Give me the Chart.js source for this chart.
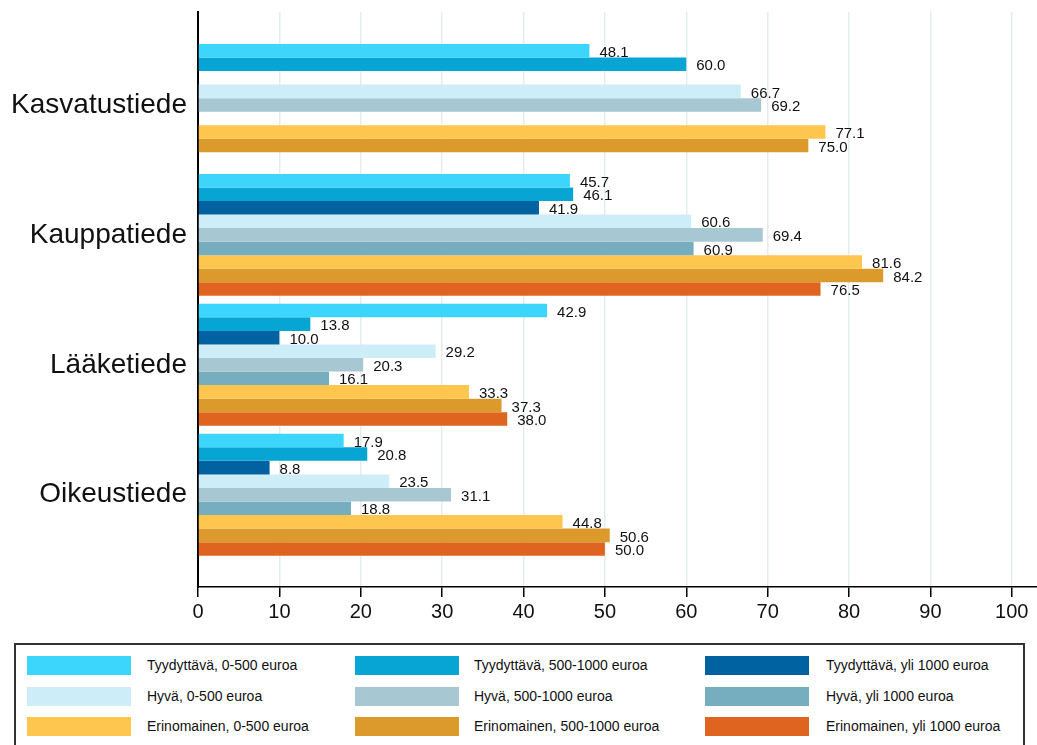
<!DOCTYPE html>
<html>
<head>
<meta charset="utf-8">
<script src="https://cdn.jsdelivr.net/npm/chart.js"></script>
<style>
  html, body { margin: 0; padding: 0; background: #fff; }
  #wrap { position: relative; width: 1037px; height: 745px; overflow: hidden; background: #fff; }
  #c { position: absolute; left: 0; top: 0; }
  #legend { position: absolute; left: 14px; top: 643px; width: 1011px; height: 130px; border: 2px solid #333; box-sizing: border-box; }
  .sw { position: absolute; width: 104px; height: 19px; }
  .lt { position: absolute; font-family: 'Liberation Sans', Arial, sans-serif; font-size: 14px; color: #111; line-height: 19px; white-space: nowrap; }
</style>
</head>
<body>
<div id="wrap">
  <canvas id="c" width="1037" height="640"></canvas>
  <div id="legend"></div>
</div>
<script>
const categories = ['Kasvatustiede', 'Kauppatiede', 'Lääketiede', 'Oikeustiede'];
const seriesNames = [
  'Tyydyttävä, 0-500 euroa', 'Tyydyttävä, 500-1000 euroa', 'Tyydyttävä, yli 1000 euroa',
  'Hyvä, 0-500 euroa', 'Hyvä, 500-1000 euroa', 'Hyvä, yli 1000 euroa',
  'Erinomainen, 0-500 euroa', 'Erinomainen, 500-1000 euroa', 'Erinomainen, yli 1000 euroa'
];
const tyydyttava0_500    = [48.1, 45.7, 42.9, 17.9];
const tyydyttava500_1000 = [60.0, 46.1, 13.8, 20.8];
const tyydyttavaYli1000  = [null, 41.9, 10.0, 8.8];
const hyva0_500          = [66.7, 60.6, 29.2, 23.5];
const hyva500_1000       = [69.2, 69.4, 20.3, 31.1];
const hyvaYli1000        = [null, 60.9, 16.1, 18.8];
const erinomainen0_500   = [77.1, 81.6, 33.3, 44.8];
const erinomainen500_1000= [75.0, 84.2, 37.3, 50.6];
const erinomainenYli1000 = [null, 76.5, 38.0, 50.0];
const xTicks = [0, 10, 20, 30, 40, 50, 60, 70, 80, 90, 100];

const seriesValues = [
  tyydyttava0_500, tyydyttava500_1000, tyydyttavaYli1000,
  hyva0_500, hyva500_1000, hyvaYli1000,
  erinomainen0_500, erinomainen500_1000, erinomainenYli1000
];
const seriesColors = [
  '#3cd5fb', '#07a5d4', '#0062a0',
  '#cdeef8', '#a7c7d2', '#76aec0',
  '#ffc64f', '#dc9a2c', '#de6420'
];

const FONT = "'Liberation Sans', Arial, sans-serif";

const datasets = seriesValues.map((vals, s) => ({
  label: seriesNames[s],
  data: vals.map((v, i) => ({ x: v, y: i })),
  backgroundColor: seriesColors[s],
  borderWidth: 0,
  categoryPercentage: 0.9385,
  barPercentage: 1.0
}));

const valueLabels = {
  id: 'valueLabels',
  afterDatasetsDraw(chart) {
    const ctx = chart.ctx;
    ctx.save();
    ctx.font = '15px ' + FONT;
    ctx.fillStyle = '#111';
    ctx.textAlign = 'left';
    ctx.textBaseline = 'middle';
    chart.data.datasets.forEach((ds, di) => {
      const meta = chart.getDatasetMeta(di);
      meta.data.forEach((el, i) => {
        const v = seriesValues[di][i];
        if (v === null || v === undefined) return;
        ctx.fillText(v.toFixed(1), el.x + 10, el.y + 2);
      });
    });
    ctx.restore();
  }
};

const whiteBg = {
  id: 'whiteBg',
  beforeDraw(chart) {
    const ctx = chart.ctx;
    ctx.save();
    ctx.fillStyle = '#fff';
    ctx.fillRect(0, 0, chart.width, chart.height);
    ctx.restore();
  }
};

new Chart(document.getElementById('c'), {
  type: 'bar',
  data: { datasets },
  options: {
    indexAxis: 'y',
    responsive: false,
    animation: false,
    layout: { padding: { top: 12, right: 0, bottom: 0, left: 0 } },
    plugins: { legend: { display: false }, tooltip: { enabled: false } },
    scales: {
      x: {
        type: 'linear',
        position: 'bottom',
        min: 0,
        max: 103.1,
        afterBuildTicks(scale) { scale.ticks = xTicks.map(v => ({ value: v })); },
        afterFit(scale) { scale.height = 53; scale.paddingLeft = 0; scale.paddingRight = 0; },
        ticks: { font: { family: FONT, size: 20 }, color: '#111', padding: 3, maxRotation: 0 },
        grid: { color: '#e4eded', lineWidth: 1.5, tickColor: '#000', tickLength: 10, tickWidth: 1.5 },
        border: { color: '#000', width: 1.5 }
      },
      y: {
        type: 'linear',
        reverse: true,
        offset: false,
        min: -0.715,
        max: 3.71,
        afterBuildTicks(scale) { scale.ticks = categories.map((c, i) => ({ value: i })); },
        afterFit(scale) { scale.width = 198; scale.paddingTop = 0; scale.paddingBottom = 0; },
        ticks: {
          callback: (v) => categories[v] !== undefined ? categories[v] : '',
          font: { family: FONT, size: 28 },
          color: '#111',
          padding: 11
        },
        grid: { display: false, drawTicks: false, offset: false },
        border: { display: true, color: '#000', width: 2 }
      }
    }
  },
  plugins: [whiteBg, valueLabels]
});

// HTML legend (3 x 3 grid), built from series names & colours
const legend = document.getElementById('legend');
const colSw = [27, 355, 705], colTx = [147, 474, 826], rowTop = [656, 687, 717];
seriesNames.forEach((name, i) => {
  const r = Math.floor(i / 3), c = i % 3;
  const sw = document.createElement('div');
  sw.className = 'sw';
  sw.style.left = (colSw[c] - 16) + 'px';
  sw.style.top = (rowTop[r] - 645) + 'px';
  sw.style.background = seriesColors[i];
  legend.appendChild(sw);
  const t = document.createElement('div');
  t.className = 'lt';
  t.style.left = (colTx[c] - 16) + 'px';
  t.style.top = (rowTop[r] - 645) + 'px';
  t.textContent = name;
  legend.appendChild(t);
});
</script>
</body>
</html>
